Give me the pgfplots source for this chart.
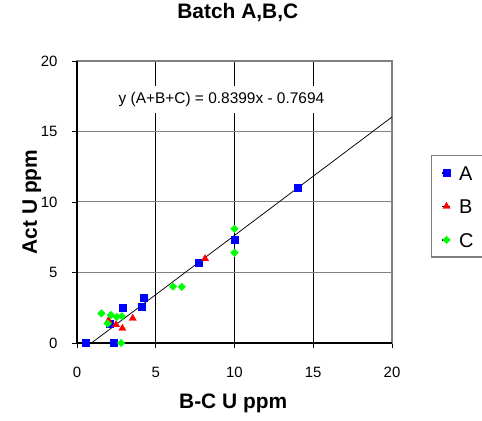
\documentclass[border=0pt]{standalone}
\usepackage{fontspec}
\setmainfont{Liberation Sans}
\usepackage{pgfplots}
\pgfplotsset{compat=1.18}
\begin{document}
\begin{tikzpicture}
\useasboundingbox (0,0) rectangle (482bp,421bp);
\begin{axis}[
  at={(77bp,78bp)}, anchor=south west,
  scale only axis, width=315bp, height=282bp,
  xmin=0, xmax=20, ymin=0, ymax=20,
  xtick={0,5,10,15,20}, ytick={0,5,10,15,20},
  clip=false,
  axis line style={draw=gray, line width=1.5bp},
  grid=major,
  x grid style={black, line width=0.7bp},
  y grid style={gray, line width=1bp},
  tick align=outside, tickpos=left, major tick length=5bp,
  tick style={black, line width=0.8bp},
  /pgf/number format/assume math mode=true,
  ticklabel style={font=\fontsize{15}{18}\selectfont, inner sep=0pt},
  xticklabel style={anchor=base, yshift=-29.7bp},
  yticklabel style={anchor=east, xshift=-14.3bp},
  title={Batch A,B,C},
  title style={at={(axis description cs:0.5105,1)}, anchor=base, yshift=37bp, font=\fontsize{21}{25}\selectfont\bfseries},
  xlabel={B-C U ppm},
  xlabel style={at={(axis description cs:0.4959,0)}, anchor=base, yshift=-65.3bp, font=\fontsize{21}{25}\selectfont\bfseries},
  ylabel={Act U ppm},
  ylabel style={at={(axis description cs:-0.127,0.5)}, rotate=0, anchor=base, font=\fontsize{21}{25}\selectfont\bfseries},
  legend style={at={(1.1238,0.6667)}, anchor=north west, draw=gray, line width=1.5bp, fill=white,
    font=\fontsize{20}{24}\selectfont, inner xsep=10bp, inner ysep=10bp, row sep=19.2bp,
    nodes={inner sep=0pt, text height=14.3bp, text depth=0pt},
    /tikz/every odd column/.append style={column sep=8bp}},
  legend cell align=left,
  legend image code/.code={\path (0bp,0bp) -- (8bp,0bp); \draw[#1] plot coordinates {(4bp,0bp)};},
]
\addplot[only marks, mark=square*, mark size=3.5bp, mark options={draw=blue, fill=blue, line width=0.3bp}] coordinates {
  (0.55,0) (2.35,0) (2.1,1.35) (2.9,2.52) (4.1,2.6) (4.25,3.2) (7.75,5.72) (10,7.3) (14,11.02)
};
\addlegendentry{A}
\addplot[only marks, mark=triangle*, mark size=4.2bp, mark options={draw=red, fill=red, line width=0.3bp}] coordinates {
  (2.0,1.6) (2.48,1.3) (2.88,1.04) (3.54,1.75) (8.13,5.98)
};
\addlegendentry{B}
\addplot[only marks, mark=square*, mark size=2.7bp, mark options={rotate=45, draw=green, fill=green, line width=0.3bp}] coordinates {
  (1.55,2.1) (2.15,1.98) (1.95,1.38) (2.52,1.85) (2.85,1.9) (2.8,0) (6.1,4.0) (6.65,3.98) (10,8.1) (10,6.4)
};
\addlegendentry{C}
\addplot[black, line width=0.75bp, forget plot] coordinates {(0.916,0) (20,16.029)};
\node[fill=white, inner xsep=6bp, inner ysep=6bp, anchor=base, font=\fontsize{15.5}{18}\selectfont] at (axis cs:9.17,17.0) {y (A+B+C) = 0.8399x - 0.7694};
\draw[black, line width=1.5bp] (rel axis cs:0,1) -- (rel axis cs:0,0) -- (rel axis cs:1,0);
\end{axis}
\end{tikzpicture}
\end{document}
